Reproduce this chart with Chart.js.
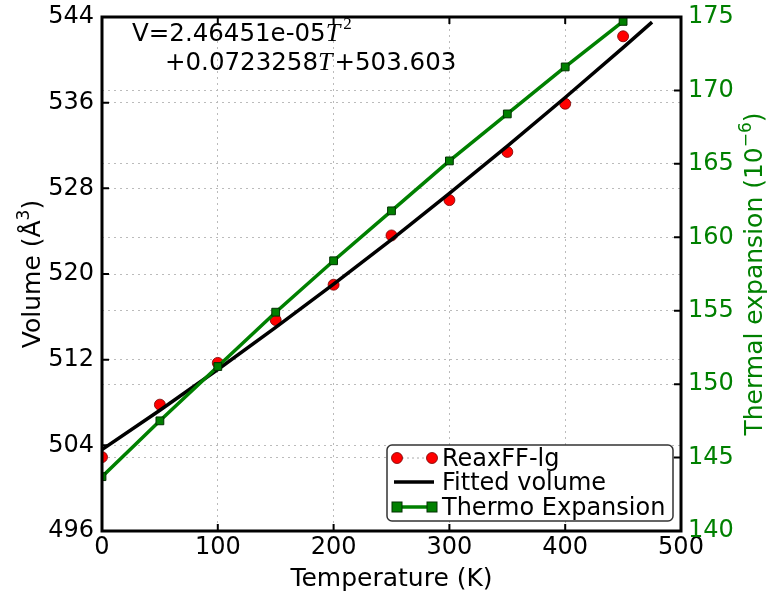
<!DOCTYPE html>
<html>
<head>
<meta charset="utf-8">
<script src="https://cdn.jsdelivr.net/npm/chart.js@4.4.0/dist/chart.umd.min.js"></script>
<style>
    html, body { margin: 0; padding: 0; background: #fff; }
</style>
</head>
<body>
<canvas id="volumeChart" width="767" height="596"></canvas>
<script>
// data
var temperatures = [0, 50, 100, 150, 200, 250, 300, 350, 400, 450];
var reaxVolume = [502.9, 507.8, 511.7, 515.7, 519.0, 523.6, 526.9, 531.4, 535.9, 542.2];
var thermoExpansion = [143.7, 147.5, 151.2, 154.9, 158.4, 161.8, 165.2, 168.4, 171.6, 174.7];
var fitTemps = [0, 50, 100, 150, 200, 250, 300, 350, 400, 450, 475];
var fitVolume = [503.60, 507.28, 511.08, 515.01, 519.05, 523.22, 527.52, 531.94, 536.48, 541.14, 543.52];

var xTicks = [0, 100, 200, 300, 400, 500];
var volumeTicks = [496, 504, 512, 520, 528, 536, 544];
var expansionTicks = [140, 145, 150, 155, 160, 165, 170, 175];

var legendLabels = ['ReaxFF-lg', 'Fitted volume', 'Thermo Expansion'];

var FONT = "'DejaVu Sans', sans-serif";
var GREEN = '#008000';

function toPoints(xs, ys) {
    return xs.map(function (x, i) { return { x: x, y: ys[i] }; });
}

function fixedTicks(list) {
    return function (scale) {
        scale.ticks = list.map(function (v) { return { value: v }; });
    };
}

// draws text made of parts (normal / italic / superscript)
function drawParts(ctx, parts, x, y, align) {
    var total = 0;
    parts.forEach(function (p) {
        ctx.font = p.font;
        total += ctx.measureText(p.text).width + (p.gap || 0);
    });
    var cx = align === 'center' ? x - total / 2 : x;
    ctx.textAlign = 'left';
    ctx.textBaseline = 'alphabetic';
    parts.forEach(function (p) {
        ctx.font = p.font;
        ctx.fillText(p.text, cx, y + (p.dy || 0));
        cx += ctx.measureText(p.text).width + (p.gap || 0);
    });
}

var decorPlugin = {
    id: 'decor',
    afterDraw: function (chart) {
        var ctx = chart.ctx;
        var a = chart.chartArea;
        var sx = chart.scales.x, sy = chart.scales.y, sy2 = chart.scales.y2;
        ctx.save();

        // inward ticks
        ctx.strokeStyle = '#000';
        ctx.lineWidth = 2;
        ctx.beginPath();
        xTicks.forEach(function (v) {
            var px = sx.getPixelForValue(v);
            ctx.moveTo(px, a.bottom); ctx.lineTo(px, a.bottom - 7);
            ctx.moveTo(px, a.top); ctx.lineTo(px, a.top + 7);
        });
        volumeTicks.forEach(function (v) {
            var py = sy.getPixelForValue(v);
            ctx.moveTo(a.left, py); ctx.lineTo(a.left + 7, py);
        });
        expansionTicks.forEach(function (v) {
            var py = sy2.getPixelForValue(v);
            ctx.moveTo(a.right, py); ctx.lineTo(a.right - 7, py);
        });
        ctx.stroke();

        // frame
        ctx.lineWidth = 3;
        ctx.strokeRect(a.left, a.top, a.right - a.left, a.bottom - a.top);

        // axis titles
        var big = "25px " + FONT;
        var small = "17px " + FONT;
        ctx.fillStyle = '#000';
        drawParts(ctx, [{ text: 'Temperature (K)', font: big }], (a.left + a.right) / 2, 586, 'center');

        ctx.save();
        ctx.translate(40, (a.top + a.bottom) / 2);
        ctx.rotate(-Math.PI / 2);
        drawParts(ctx, [
            { text: 'Volume (', font: big },
            { text: 'Å', font: big },
            { text: '3', font: small, dy: -11 },
            { text: ')', font: big }
        ], 0, 0, 'center');
        ctx.restore();

        ctx.save();
        ctx.fillStyle = GREEN;
        ctx.translate(762, (a.top + a.bottom) / 2);
        ctx.rotate(-Math.PI / 2);
        drawParts(ctx, [
            { text: 'Thermal expansion (', font: big },
            { text: '10', font: big },
            { text: '−6', font: small, dy: -11 },
            { text: ')', font: big }
        ], 0, 0, 'center');
        ctx.restore();

        // fit equation
        var eq = "24.5px " + FONT;
        var it = "italic 26px 'Liberation Serif', serif";
        ctx.fillStyle = '#000';
        drawParts(ctx, [
            { text: 'V=2.46451e-05', font: eq },
            { text: 'T', font: it, gap: 3 },
            { text: '2', font: "17px 'Liberation Serif', serif", dy: -12 }
        ], 132, 41, 'left');
        drawParts(ctx, [
            { text: '+0.0723258', font: eq },
            { text: 'T', font: it, gap: 2 },
            { text: '+503.603', font: eq }
        ], 165, 70, 'left');

        // legend
        ctx.beginPath();
        ctx.roundRect(387, 445, 286, 76, 5);
        ctx.fillStyle = '#fff';
        ctx.fill();
        ctx.lineWidth = 1.5;
        ctx.strokeStyle = '#333';
        ctx.stroke();

        var rows = [458, 482, 507];
        // red dots
        ctx.setLineDash([2, 3]);
        ctx.lineWidth = 1;
        ctx.strokeStyle = '#aaa';
        ctx.beginPath(); ctx.moveTo(397, rows[0]); ctx.lineTo(432, rows[0]); ctx.stroke();
        ctx.setLineDash([]);
        [397, 432].forEach(function (px) {
            ctx.beginPath();
            ctx.arc(px, rows[0], 5.5, 0, Math.PI * 2);
            ctx.fillStyle = '#ff0000';
            ctx.fill();
            ctx.lineWidth = 0.8;
            ctx.strokeStyle = '#700';
            ctx.stroke();
        });
        // black line
        ctx.lineWidth = 3.5;
        ctx.strokeStyle = '#000';
        ctx.beginPath(); ctx.moveTo(394, rows[1]); ctx.lineTo(434, rows[1]); ctx.stroke();
        // green line with squares
        ctx.strokeStyle = GREEN;
        ctx.beginPath(); ctx.moveTo(395, rows[2]); ctx.lineTo(433, rows[2]); ctx.stroke();
        [397, 432].forEach(function (px) {
            ctx.fillStyle = GREEN;
            ctx.fillRect(px - 5, rows[2] - 5, 10, 10);
            ctx.lineWidth = 1;
            ctx.strokeStyle = '#003000';
            ctx.strokeRect(px - 5, rows[2] - 5, 10, 10);
        });

        ctx.fillStyle = '#000';
        legendLabels.forEach(function (label, i) {
            drawParts(ctx, [{ text: label, font: "24px " + FONT }], 442, rows[i] + 8, 'left');
        });

        ctx.restore();
    }
};

function fitVertical(width) {
    return function (s) {
        s.width = width;
        s.paddingTop = 0;
        s.paddingBottom = 0;
    };
}

function makeChart() {
    var ctx = document.getElementById('volumeChart');
    return new Chart(ctx, {
        type: 'line',
        data: {
            datasets: [{
                label: legendLabels[2],
                data: toPoints(temperatures, thermoExpansion),
                yAxisID: 'y2',
                borderColor: GREEN,
                borderWidth: 3.5,
                pointStyle: 'rect',
                pointRadius: 5.5,
                pointBackgroundColor: GREEN,
                pointBorderColor: '#003000',
                pointBorderWidth: 1,
                tension: 0,
                clip: { left: 0, top: 0, right: 0, bottom: 0 },
                order: 0
            }, {
                label: legendLabels[1],
                data: toPoints(fitTemps, fitVolume),
                yAxisID: 'y',
                borderColor: '#000',
                borderWidth: 3.5,
                pointRadius: 0,
                tension: 0,
                clip: { left: 0, top: 0, right: 0, bottom: 0 },
                order: 1
            }, {
                label: legendLabels[0],
                data: toPoints(temperatures, reaxVolume),
                yAxisID: 'y',
                showLine: false,
                pointRadius: 5.5,
                pointBackgroundColor: '#ff0000',
                pointBorderColor: '#700',
                pointBorderWidth: 0.8,
                clip: { left: 0, top: 0, right: 0, bottom: 0 },
                order: 2
            }]
        },
        options: {
            responsive: false,
            animation: false,
            layout: { padding: { top: 17, left: 0, right: 0, bottom: 0 } },
            plugins: {
                legend: { display: false },
                tooltip: { enabled: false }
            },
            scales: {
                x: {
                    type: 'linear',
                    min: 0, max: 500,
                    afterBuildTicks: fixedTicks(xTicks),
                    afterFit: function (s) { s.height = 65; s.paddingLeft = 0; s.paddingRight = 0; },
                    ticks: { font: { family: FONT, size: 24 }, color: '#000', padding: 2, maxRotation: 0 },
                    grid: { color: '#bbb', lineWidth: 1, drawTicks: false },
                    border: { display: false, dash: [2, 4] }
                },
                y: {
                    position: 'left',
                    min: 496, max: 544,
                    afterBuildTicks: fixedTicks(volumeTicks),
                    afterFit: fitVertical(102),
                    ticks: { font: { family: FONT, size: 24 }, color: '#000', padding: 8 },
                    grid: { color: '#bbb', lineWidth: 1, drawTicks: false },
                    border: { display: false, dash: [2, 4] }
                },
                y2: {
                    position: 'right',
                    min: 140, max: 175,
                    afterBuildTicks: fixedTicks(expansionTicks),
                    afterFit: fitVertical(86),
                    ticks: { font: { family: FONT, size: 24 }, color: GREEN, padding: 7 },
                    grid: { color: '#bbb', lineWidth: 1, drawTicks: false },
                    border: { display: false, dash: [2, 4] }
                }
            }
        },
        plugins: [decorPlugin]
    });
}

makeChart();
</script>
</body>
</html>
